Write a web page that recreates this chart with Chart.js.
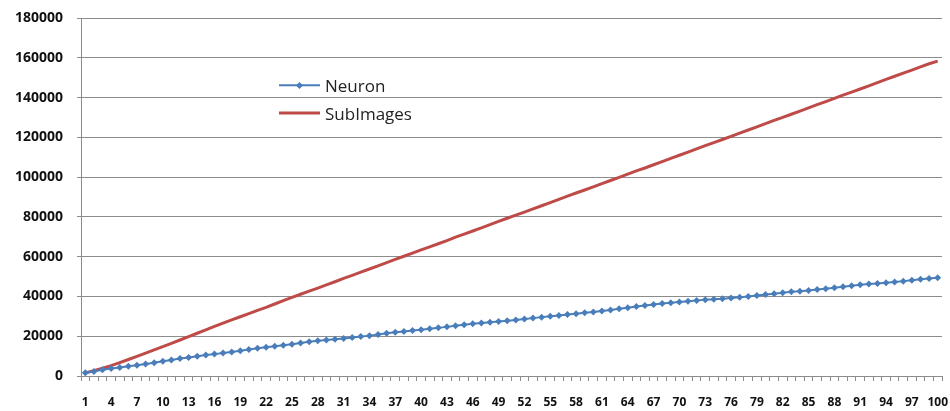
<!DOCTYPE html>
<html>
<head>
<meta charset="utf-8">
<script src="https://cdn.jsdelivr.net/npm/chart.js@4.4.0/dist/chart.umd.min.js"></script>
<style>
  body { margin: 0; background: #fff; }
  #wrap { position: relative; width: 950px; height: 411px; }
  #legend { position: absolute; left: 279px; top: 71px; font-family: "Open Sans", sans-serif; font-size: 17px; color: #222; }
  .item { display: flex; align-items: center; height: 28px; }
  .swatch { position: relative; width: 41px; height: 10px; margin-right: 5px; }
  .swatch .ln { position: absolute; left: 0; right: 0; top: 50%; transform: translateY(-50%); }
  .swatch .dm { position: absolute; left: 18px; top: 2.5px; width: 5px; height: 5px; transform: rotate(45deg); }
</style>
</head>
<body>
<div id="wrap">
  <canvas id="chart" width="950" height="411"></canvas>
  <div id="legend"></div>
</div>
<script>
// x categories 1..100, labels shown every 3rd
const categories = Array.from({ length: 100 }, (_, i) => String(i + 1));

const seriesNames = ['Neuron', 'SubImages'];
const seriesColors = ['#4A7EBB', '#BE4B48'];

const neuron = [
  1600, 2300, 3100, 3800, 4300, 4900, 5400, 6000, 6700, 7400,
  8100, 8800, 9300, 9900, 10500, 11000, 11600, 12100, 12700, 13300,
  13900, 14500, 15000, 15500, 16000, 16600, 17200, 17700, 18100, 18500,
  18900, 19400, 19800, 20300, 20900, 21500, 22000, 22400, 22900, 23300,
  23800, 24200, 24700, 25300, 25800, 26300, 26700, 27000, 27400, 27800,
  28200, 28600, 29100, 29600, 30000, 30400, 30900, 31300, 31800, 32200,
  32700, 33200, 33800, 34300, 34900, 35500, 36000, 36400, 36800, 37200,
  37600, 38000, 38400, 38600, 38900, 39200, 39600, 40000, 40500, 41000,
  41400, 41900, 42300, 42600, 43000, 43500, 43900, 44400, 44900, 45400,
  45900, 46200, 46500, 46900, 47300, 47700, 48200, 48600, 49000, 49400
];

const subImages = [
  1500, 2700, 3900, 5200, 6700, 8300, 9900, 11500, 13100, 14800,
  16400, 18100, 19800, 21500, 23200, 24900, 26600, 28200, 29800, 31400,
  33000, 34500, 36200, 37900, 39500, 41100, 42700, 44200, 45800, 47400,
  49100, 50600, 52200, 53800, 55400, 57000, 58600, 60200, 61800, 63400,
  64900, 66500, 68100, 69800, 71300, 72900, 74500, 76100, 77700, 79300,
  80900, 82400, 84000, 85600, 87200, 88800, 90400, 92000, 93500, 95100,
  96700, 98300, 99900, 101500, 103100, 104600, 106200, 107800, 109400, 111000,
  112600, 114200, 115800, 117300, 118900, 120500, 122100, 123700, 125300, 126900,
  128500, 130000, 131600, 133200, 134800, 136400, 138000, 139600, 141200, 142700,
  144300, 145900, 147500, 149100, 150700, 152300, 153800, 155400, 157000, 158300
];

const yMax = 180000;
const yStep = 20000;

const axisGray = '#8c8c8c';
const tickFont = { family: '"Open Sans", sans-serif', weight: 'bold' };

new Chart(document.getElementById('chart'), {
  type: 'line',
  data: {
    labels: categories,
    datasets: [
      {
        label: seriesNames[0],
        data: neuron,
        borderColor: seriesColors[0],
        backgroundColor: seriesColors[0],
        borderWidth: 2,
        pointStyle: 'rectRot',
        pointRadius: 3.5,
        pointBorderWidth: 0,
        tension: 0
      },
      {
        label: seriesNames[1],
        data: subImages,
        borderColor: seriesColors[1],
        backgroundColor: seriesColors[1],
        borderWidth: 3,
        pointRadius: 0,
        tension: 0
      }
    ]
  },
  options: {
    responsive: false,
    animation: false,
    layout: { padding: { top: 18, right: 8, left: 0, bottom: 0 } },
    plugins: { legend: { display: false }, tooltip: { enabled: false } },
    scales: {
      x: {
        offset: true,
        grid: { drawOnChartArea: false, offset: true, tickLength: 5, color: axisGray },
        border: { color: axisGray },
        ticks: {
          autoSkip: false,
          maxRotation: 0,
          padding: 14,
          color: '#111',
          font: { ...tickFont, size: 12 },
          callback: (v, i) => (i % 3 === 0 ? categories[i] : '')
        },
        afterFit: s => { s.height = 35; s.paddingLeft = 0; s.paddingRight = 0; }
      },
      y: {
        min: 0,
        max: yMax,
        grid: { color: axisGray, tickLength: 4 },
        border: { color: axisGray },
        ticks: {
          stepSize: yStep,
          padding: 14,
          color: '#111',
          font: { ...tickFont, size: 14 },
          callback: v => String(v)
        },
        afterFit: s => { s.width = 81; s.paddingTop = 0; s.paddingBottom = 0; }
      }
    }
  }
});

// legend drawn inside the plot like the original
const legend = document.getElementById('legend');
seriesNames.forEach((name, i) => {
  const item = document.createElement('div');
  item.className = 'item';
  const marker = i === 0
    ? `<div class="ln" style="height:1.5px;background:${seriesColors[i]}"></div><div class="dm" style="background:${seriesColors[i]}"></div>`
    : `<div class="ln" style="height:3px;background:${seriesColors[i]}"></div>`;
  item.innerHTML = `<div class="swatch">${marker}</div><span>${name}</span>`;
  legend.appendChild(item);
});
</script>
</body>
</html>
